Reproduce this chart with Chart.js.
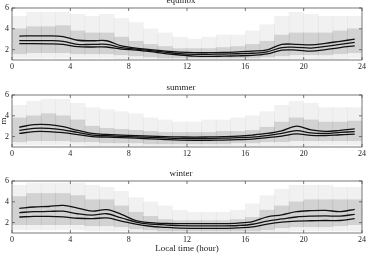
<!DOCTYPE html>
<html><head><meta charset="utf-8">
<script src="https://cdn.jsdelivr.net/npm/chart.js@4.4.1/dist/chart.umd.min.js"></script>
<style>
body{margin:0;width:371px;height:257px;overflow:hidden;background:#fff;position:relative}
.p{position:absolute;left:0;width:371px}
</style></head><body>
<div class="p" style="top:-6px;height:80px"><canvas id="c1"></canvas></div>
<div class="p" style="top:81px;height:80px"><canvas id="c2"></canvas></div>
<div class="p" style="top:167px;height:90px"><canvas id="c3"></canvas></div>
<script>
// ---- data ----
const hourCenters = [0.5,1.5,2.5,3.5,4.5,5.5,6.5,7.5,8.5,9.5,10.5,11.5,12.5,13.5,14.5,15.5,16.5,17.5,18.5,19.5,20.5,21.5,22.5,23.5];
const xTicks = [0,4,8,12,16,20,24];
const yTicks = [2,4,6];
const seasons = ["equinox","summer","winter"];

const equinoxUpper = [3.3,3.32,3.32,3.25,2.9,2.85,2.85,2.35,2.15,2.0,1.85,1.75,1.7,1.7,1.72,1.78,1.85,1.97,2.5,2.5,2.45,2.6,2.8,3.0];
const equinoxMid   = [2.86,2.87,2.86,2.8,2.5,2.5,2.5,2.2,2.05,1.9,1.75,1.62,1.55,1.55,1.57,1.6,1.65,1.78,2.2,2.22,2.15,2.3,2.5,2.7];
const equinoxLower = [2.57,2.57,2.55,2.5,2.28,2.25,2.25,2.05,1.95,1.8,1.62,1.48,1.38,1.35,1.37,1.4,1.45,1.58,1.95,1.95,1.85,2.0,2.2,2.35];
const equinoxCoreLo = [1.6,1.7,1.7,1.7,1.6,1.6,1.6,1.5,1.4,1.3,1.2,1.2,1.2,1.2,1.2,1.2,1.2,1.3,1.4,1.5,1.5,1.5,1.6,1.7];
const equinoxCoreHi = [4.0,4.2,4.2,4.3,3.8,3.6,3.6,3.2,2.8,2.5,2.3,2.1,2.1,2.1,2.2,2.3,2.5,2.8,3.4,3.6,3.6,3.6,3.8,4.0];
const equinoxSprLo  = [1.2,1.2,1.2,1.2,1.2,1.2,1.2,1.1,1.1,1.1,1.05,1.05,1.05,1.05,1.05,1.05,1.05,1.1,1.1,1.1,1.1,1.1,1.1,1.2];
const equinoxSprHi  = [5.2,5.6,5.6,5.6,5.4,5.2,5.4,5.0,4.6,4.0,3.6,3.2,3.0,3.2,3.4,3.4,3.8,4.4,5.2,5.6,5.4,5.2,5.2,5.2];

const summerUpper = [2.9,3.15,3.15,2.95,2.6,2.3,2.2,2.15,2.1,2.05,2.0,1.97,1.95,1.97,2.0,2.05,2.15,2.3,2.55,3.0,2.65,2.5,2.6,2.75];
const summerMid   = [2.6,2.8,2.8,2.65,2.4,2.15,2.08,2.02,1.97,1.92,1.87,1.83,1.82,1.83,1.85,1.9,1.95,2.1,2.3,2.58,2.35,2.3,2.4,2.48];
const summerLower = [2.3,2.48,2.48,2.38,2.2,2.0,1.95,1.9,1.85,1.78,1.72,1.67,1.65,1.65,1.67,1.7,1.75,1.9,2.05,2.26,2.12,2.1,2.18,2.23];
const summerCoreLo = [1.5,1.6,1.6,1.6,1.5,1.5,1.4,1.4,1.4,1.3,1.3,1.3,1.3,1.3,1.3,1.4,1.4,1.5,1.5,1.6,1.6,1.6,1.6,1.6];
const summerCoreHi = [3.8,4.0,4.2,4.0,3.6,3.0,2.8,2.7,2.6,2.5,2.4,2.4,2.4,2.4,2.5,2.5,2.6,2.9,3.4,3.8,3.6,3.4,3.4,3.5];
const summerSprLo  = [1.2,1.2,1.2,1.2,1.2,1.1,1.1,1.1,1.1,1.1,1.1,1.1,1.1,1.1,1.1,1.1,1.1,1.1,1.1,1.1,1.1,1.2,1.2,1.2];
const summerSprHi  = [5.0,5.4,5.6,5.6,5.2,4.8,4.6,4.4,4.2,3.8,3.6,3.4,3.4,3.6,3.6,3.8,4.0,4.4,5.0,5.4,5.2,4.8,4.8,4.8];

const winterUpper = [3.37,3.5,3.55,3.65,3.4,3.1,3.25,2.8,2.2,2.0,1.92,1.9,1.9,1.9,1.9,1.95,2.1,2.55,2.75,3.05,3.15,3.18,3.05,3.28];
const winterMid   = [2.96,3.05,3.07,3.1,2.85,2.72,2.85,2.45,2.05,1.85,1.78,1.7,1.68,1.68,1.68,1.72,1.84,2.15,2.35,2.54,2.62,2.65,2.62,2.8];
const winterLower = [2.54,2.6,2.6,2.55,2.42,2.38,2.45,2.15,1.85,1.65,1.55,1.47,1.45,1.45,1.45,1.5,1.58,1.85,2.05,2.15,2.18,2.2,2.2,2.38];
const winterCoreLo = [1.8,1.8,1.8,1.8,1.8,1.7,1.7,1.6,1.4,1.3,1.2,1.2,1.2,1.2,1.2,1.2,1.2,1.3,1.5,1.6,1.6,1.6,1.7,1.8];
const winterCoreHi = [4.5,4.8,4.8,4.8,4.6,4.2,4.2,3.6,3.0,2.6,2.3,2.2,2.2,2.2,2.2,2.3,2.5,3.2,3.6,4.0,4.2,4.2,4.2,4.2];
const winterSprLo  = [1.3,1.3,1.3,1.3,1.3,1.2,1.2,1.2,1.1,1.1,1.05,1.05,1.05,1.05,1.05,1.05,1.05,1.1,1.1,1.2,1.2,1.2,1.2,1.2];
const winterSprHi  = [5.6,5.8,5.8,5.8,5.8,5.6,5.4,5.0,4.4,4.0,3.6,3.2,3.0,3.0,3.0,3.2,3.8,4.6,5.2,5.6,5.6,5.6,5.4,5.4];

// ---- drawing ----
const SERIF = "'Liberation Serif','Times New Roman',serif";
const framePlugin = {
  id: 'frame',
  afterDatasetsDraw(chart) {
    const {ctx, chartArea: a, scales: {x, y}} = chart;
    ctx.save();
    ctx.strokeStyle = '#555';
    ctx.lineWidth = 0.8;
    ctx.strokeRect(a.left, a.top, a.right - a.left, a.bottom - a.top);
    ctx.beginPath();
    x.ticks.forEach(t => {
      const px = x.getPixelForValue(t.value);
      ctx.moveTo(px, a.bottom); ctx.lineTo(px, a.bottom - 3);
      ctx.moveTo(px, a.top); ctx.lineTo(px, a.top + 3);
    });
    y.ticks.forEach(t => {
      const py = y.getPixelForValue(t.value);
      ctx.moveTo(a.left, py); ctx.lineTo(a.left + 3, py);
      ctx.moveTo(a.right, py); ctx.lineTo(a.right - 3, py);
    });
    ctx.stroke();
    ctx.restore();
  }
};

function pts(xs, ys) { return xs.map((x, i) => ({x: x, y: ys[i]})); }
function rng(xs, lo, hi) { return xs.map((x, i) => ({x: x, y: [lo[i], hi[i]]})); }

function makePanel(id, title, up, mid, low, cLo, cHi, sLo, sHi, xTitle, yTitle, xAxisH) {
  const lineDs = (d) => ({type: 'line', data: pts(hourCenters, d), borderColor: '#111', borderWidth: 1.3,
    pointRadius: 0, tension: 0.35, fill: false, order: 1});
  new Chart(document.getElementById(id), {
    type: 'bar',
    data: {
      datasets: [
        {data: rng(hourCenters, sLo, sHi), backgroundColor: 'rgba(150,150,150,0.13)', borderWidth: 0,
          barPercentage: 1, categoryPercentage: 1, grouped: false, order: 3},
        {data: rng(hourCenters, cLo, cHi), backgroundColor: 'rgba(150,150,150,0.33)', borderWidth: 0,
          barPercentage: 1, categoryPercentage: 1, grouped: false, order: 2},
        lineDs(up), lineDs(mid), lineDs(low)
      ]
    },
    options: {
      responsive: true, maintainAspectRatio: false, animation: false, devicePixelRatio: 1,
      layout: {padding: {left: 0, right: 9, top: 0, bottom: 0}},
      plugins: {
        legend: {display: false}, tooltip: {enabled: false},
        title: {display: true, text: title, color: '#222', font: {family: SERIF, size: 9, weight: 'normal', lineHeight: 1.2},
          padding: {top: 1.6, bottom: 1.6}}
      },
      scales: {
        x: {
          type: 'linear', min: 0, max: 24, offset: false,
          grid: {display: false, drawTicks: false, offset: false}, border: {display: false},
          afterBuildTicks: s => { s.ticks = xTicks.map(v => ({value: v})); },
          afterFit: s => { s.height = xAxisH; },
          ticks: {autoSkip: false, maxRotation: 0, padding: 2, color: '#222', font: {family: SERIF, size: 8}},
          title: {display: !!xTitle, text: xTitle || '', color: '#222', font: {family: SERIF, size: 9, lineHeight: 1.2},
            padding: {top: 0, bottom: 3}}
        },
        y: {
          min: 1, max: 6,
          grid: {display: false, drawTicks: false}, border: {display: false},
          afterBuildTicks: s => { s.ticks = yTicks.map(v => ({value: v})); },
          afterFit: s => { s.width = 12; },
          ticks: {padding: 3, color: '#222', font: {family: SERIF, size: 8}},
          title: {display: !!yTitle, text: yTitle || '', color: '#222', font: {family: SERIF, size: 9, lineHeight: 0.8},
            padding: 0}
        }
      }
    },
    plugins: [framePlugin]
  });
}

makePanel('c1', seasons[0], equinoxUpper, equinoxMid, equinoxLower, equinoxCoreLo, equinoxCoreHi, equinoxSprLo, equinoxSprHi, null, null, 14);
makePanel('c2', seasons[1], summerUpper, summerMid, summerLower, summerCoreLo, summerCoreHi, summerSprLo, summerSprHi, null, 'm', 14);
makePanel('c3', seasons[2], winterUpper, winterMid, winterLower, winterCoreLo, winterCoreHi, winterSprLo, winterSprHi, 'Local time (hour)', null, 24);
</script>
</body></html>
